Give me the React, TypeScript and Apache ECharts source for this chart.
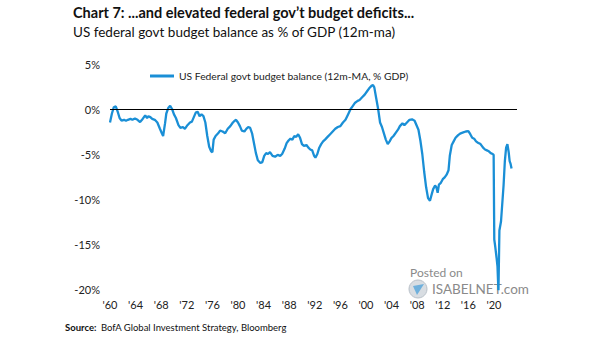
import React, { useEffect, useRef } from "react";
import * as echarts from "echarts";

const years: number[] = [
  1960.0, 1960.3, 1960.6, 1960.9, 1961.2, 1961.5, 1961.8, 1962.2, 1962.5, 1962.8,
  1963.2, 1963.5, 1963.9, 1964.3, 1964.7, 1965.0, 1965.3, 1965.5, 1965.8, 1966.0,
  1966.3, 1966.6, 1967.0, 1967.4, 1967.8, 1968.1, 1968.3, 1968.6, 1968.8, 1969.1,
  1969.4, 1969.7, 1970.0, 1970.3, 1970.7, 1971.0, 1971.4, 1971.7, 1972.1, 1972.5,
  1972.8, 1973.1, 1973.4, 1973.7, 1974.0, 1974.3, 1974.6, 1974.9, 1975.2, 1975.5,
  1975.8, 1976.0, 1976.2, 1976.5, 1976.9, 1977.2, 1977.6, 1978.0, 1978.4, 1978.8,
  1979.2, 1979.5, 1979.7, 1980.0, 1980.3, 1980.6, 1981.0, 1981.3, 1981.6, 1981.9,
  1982.2, 1982.5, 1982.8, 1983.1, 1983.5, 1983.8, 1984.1, 1984.4, 1984.7, 1985.0,
  1985.4, 1985.8, 1986.2, 1986.6, 1986.9, 1987.3, 1987.6, 1987.9, 1988.2, 1988.5,
  1988.8, 1989.1, 1989.4, 1989.7, 1990.0, 1990.3, 1990.7, 1991.0, 1991.3, 1991.6,
  1991.9, 1992.1, 1992.4, 1992.7, 1993.0, 1993.3, 1993.6, 1994.0, 1994.4, 1994.8,
  1995.2, 1995.6, 1996.0, 1996.4, 1996.8, 1997.2, 1997.6, 1997.9, 1998.3, 1998.7,
  1999.0, 1999.4, 1999.8, 2000.2, 2000.5, 2000.9, 2001.1, 2001.3, 2001.6, 2001.9,
  2002.2, 2002.5, 2002.8, 2003.1, 2003.4, 2003.7, 2004.0, 2004.3, 2004.7, 2005.0,
  2005.3, 2005.7, 2006.0, 2006.4, 2006.8, 2007.2, 2007.6, 2007.9, 2008.2, 2008.5,
  2008.8, 2009.1, 2009.4, 2009.7, 2010.0, 2010.3, 2010.5, 2010.8, 2011.0, 2011.2,
  2011.4, 2011.7, 2012.0, 2012.3, 2012.6, 2012.9, 2013.1, 2013.4, 2013.7, 2014.0,
  2014.4, 2014.8, 2015.2, 2015.6, 2016.0, 2016.3, 2016.6, 2016.9, 2017.2, 2017.5,
  2017.9, 2018.3, 2018.6, 2018.9, 2019.2, 2019.5, 2019.8, 2019.95, 2020.05, 2020.2,
  2020.4, 2020.55, 2020.7, 2020.85, 2021.1, 2021.3, 2021.5, 2021.7, 2021.9, 2022.1,
  2022.3, 2022.45, 2022.6, 2022.75,
];

const balance: number[] = [
  -1.5, -0.5, 0.2, 0.3, -0.3, -1.0, -1.3, -1.2, -1.3, -1.2,
  -1.1, -1.2, -1.05, -1.2, -1.45, -1.2, -0.9, -0.7, -1.0, -0.8,
  -0.9, -1.1, -1.2, -1.5, -2.2, -2.7, -3.0, -1.6, -0.5, 0.1,
  0.35, 0.0, -0.6, -1.0, -1.8, -2.1, -2.0, -2.2, -1.8, -1.5,
  -1.4, -0.9, -0.4, -0.3, -0.8, -0.6, -0.8, -1.5, -3.0, -4.2,
  -4.7, -4.8, -3.4, -3.0, -2.7, -2.4, -2.5, -2.7, -2.2, -1.9,
  -1.5, -1.3, -1.2, -1.5, -1.9, -2.4, -2.5, -2.2, -2.0, -2.1,
  -2.7, -3.8, -4.9, -5.7, -6.0, -5.9, -5.2, -4.9, -5.0, -4.8,
  -5.2, -5.3, -5.1, -5.2, -5.0, -4.4, -3.8, -3.5, -3.3, -3.4,
  -3.0, -3.1, -2.8, -3.2, -3.9, -4.1, -4.0, -4.3, -4.5, -4.6,
  -5.2, -5.4, -5.0, -4.3, -3.9, -3.6, -3.4, -3.1, -2.8, -2.5,
  -2.2, -2.0, -1.9, -1.5, -1.2, -0.6, 0.0, 0.3, 0.7, 0.9,
  1.0, 1.3, 1.6, 2.0, 2.3, 2.6, 2.65, 2.4, 1.2, 0.0,
  -1.5, -2.0, -2.7, -3.4, -3.9, -3.6, -3.2, -3.0, -2.6, -2.3,
  -1.9, -1.6, -1.8, -1.5, -1.2, -1.15, -1.3, -1.8, -2.3, -3.5,
  -5.0, -7.0, -8.7, -9.9, -10.2, -9.4, -8.9, -8.5, -8.7, -9.3,
  -8.4, -8.2, -7.8, -7.6, -7.3, -6.8, -5.2, -4.0, -3.6, -3.2,
  -2.9, -2.7, -2.6, -2.5, -2.45, -2.8, -3.2, -3.3, -3.6, -3.75,
  -3.9, -4.3, -4.5, -4.6, -4.7, -4.9, -5.0, -5.1, -14.5, -15.3,
  -16.5, -17.5, -20.3, -13.5, -12.5, -10.5, -8.5, -5.8, -4.3, -3.9,
  -4.8, -5.8, -6.1, -6.6,
];

const yTicks: number[] = [5, 0, -5, -10, -15, -20];
const seriesName = "US Federal govt budget balance (12m-MA, % GDP)";
const titleText = "Chart 7: ...and elevated federal gov\u2019t budget deficits...";
const subtitleText = "US federal govt budget balance as % of GDP (12m-ma)";
const sourceLabel = "Source:";
const sourceText = "BofA Global Investment Strategy, Bloomberg";

const FONT = "Lato, 'Open Sans', sans-serif";

export default function App() {
  const ref = useRef<HTMLDivElement>(null);
  useEffect(() => {
    if (!ref.current) return;
    const chart = echarts.init(ref.current, undefined, { renderer: "svg" });
    const data = years.map((y, i) => [y, balance[i]]);
    chart.setOption({
      animation: false,
      backgroundColor: "#ffffff",
      textStyle: { fontFamily: FONT },
      grid: { left: 110, right: 88, top: 64, bottom: 52, containLabel: false },
      legend: {
        left: 145,
        top: 66,
        icon: "rect",
        itemWidth: 24,
        itemHeight: 3,
        itemGap: 4,
        textStyle: { fontFamily: FONT, fontSize: 10.3, color: "#222" },
        data: [seriesName],
      },
      xAxis: {
        type: "value",
        min: 1960,
        max: 2023.6,
        interval: 4,
        axisLine: { show: false },
        axisTick: { show: false },
        splitLine: { show: false },
        axisLabel: {
          margin: 10,
          fontSize: 11,
          color: "#222",
          fontFamily: FONT,
          showMaxLabel: false,
          formatter: (v: number) => (v > 2022 ? "" : "'" + String(v).slice(2)),
        },
      },
      yAxis: {
        type: "value",
        min: yTicks[yTicks.length - 1],
        max: yTicks[0],
        interval: 5,
        axisLine: { show: false },
        axisTick: { show: false },
        splitLine: { show: false },
        axisLabel: {
          margin: 10,
          fontSize: 11,
          color: "#222",
          fontFamily: FONT,
          formatter: (v: number) => v + "%",
        },
      },
      series: [
        {
          name: seriesName,
          type: "line",
          data,
          showSymbol: false,
          symbol: "none",
          lineStyle: { color: "#1a8fd6", width: 2.3 },
          itemStyle: { color: "#1a8fd6" },
          markLine: {
            silent: true,
            symbol: "none",
            label: { show: false },
            lineStyle: { color: "#000", width: 1, type: "solid" },
            data: [{ yAxis: 0 }],
          },
          z: 3,
        },
      ],
      graphic: [
        {
          type: "text",
          left: 73,
          top: 5,
          style: { text: titleText, font: "bold 14.5px " + FONT, fill: "#111" },
        },
        {
          type: "text",
          left: 73,
          top: 25,
          style: { text: subtitleText, font: "13.5px " + FONT, fill: "#111" },
        },
        {
          type: "text",
          left: 65,
          top: 322,
          style: { text: sourceLabel, font: "bold 9.5px " + FONT, fill: "#111" },
        },
        {
          type: "text",
          left: 101,
          top: 322,
          style: { text: sourceText, font: "9.5px " + FONT, fill: "#111" },
        },
        {
          type: "text",
          left: 410,
          top: 266,
          style: { text: "Posted on", font: "12px " + FONT, fill: "#8a8a8a" },
        },
        {
          type: "circle",
          shape: { cx: 418, cy: 289, r: 9 },
          style: { fill: "#d8dde2", stroke: "#b8c0c8", lineWidth: 1 },
        },
        {
          type: "polygon",
          shape: { points: [[413, 286], [424, 284], [417, 295]] },
          style: { fill: "#6fb0dc" },
        },
        {
          type: "text",
          left: 432,
          top: 282,
          style: { text: "ISABELNET.com", font: "13.5px " + FONT, fill: "#8a8a8a" },
        },
      ],
    });
    return () => chart.dispose();
  }, []);
  return (
    <div
      ref={ref}
      style={{ position: "absolute", left: 0, top: 0, width: 605, height: 341 }}
    />
  );
}
